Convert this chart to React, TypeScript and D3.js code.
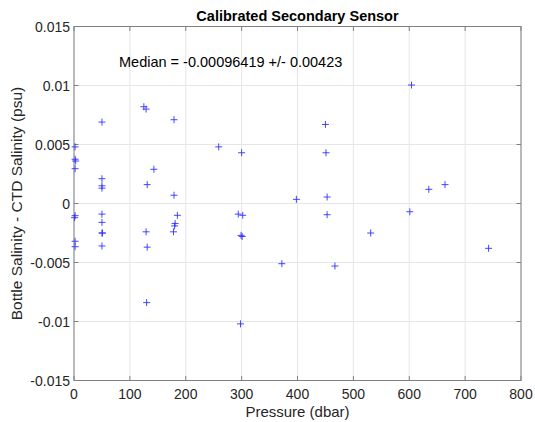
import React from "react";
import * as d3 from "d3";

// Bottle minus CTD salinity residuals for the secondary sensor, by pressure
const pressure: number[] = [
  2, 2, 3, 2, 2, 1, 2, 2,
  50, 50, 50, 50, 50, 50, 50, 51, 50,
  125, 129, 131, 143, 129, 131, 130,
  179, 179, 185, 181, 180, 178,
  259, 300, 294, 302, 299, 301, 298,
  372, 398, 450, 451, 453, 453, 467,
  531, 601, 604, 635, 664, 742,
];
const salinityDiff: number[] = [
  0.0048, 0.00375, 0.0036, 0.00295, -0.00103, -0.0012, -0.0032, -0.00366,
  0.0069, 0.0021, 0.0015, 0.0013, -0.0009, -0.0016, -0.0025, -0.0025, -0.0036,
  0.0082, 0.008, 0.0016, 0.0029, -0.0024, -0.0037, -0.0084,
  0.0071, 0.0007, -0.001, -0.0017, -0.0019, -0.0024,
  0.0048, 0.0043, -0.0009, -0.001, -0.0027, -0.0028, -0.0102,
  -0.0051, 0.00035, 0.0067, 0.0043, 0.00055, -0.00095, -0.0053,
  -0.0025, -0.0007, 0.01004, 0.0012, 0.0016, -0.0038,
];
const xTicks: number[] = [0, 100, 200, 300, 400, 500, 600, 700, 800];
const yTicks: number[] = [-0.015, -0.01, -0.005, 0, 0.005, 0.01, 0.015];
const yTickLabels: string[] = ["-0.015", "-0.01", "-0.005", "0", "0.005", "0.01", "0.015"];

const title = "Calibrated Secondary Sensor";
const annotation = "Median = -0.00096419 +/- 0.00423";
const xLabel = "Pressure (dbar)";
const yLabel = "Bottle Salinity - CTD Salinity (psu)";

const W = 535;
const H = 422;
const left = 74;
const right = 521;
const top = 26.5;
const bottom = 380.5;
const font = "'Liberation Sans', Arial, Helvetica, sans-serif";
const axisColor = "#808080";
const gridColor = "#e6e6e6";
const textColor = "#262626";

export default function App() {
  const x = d3.scaleLinear().domain([0, 800]).range([left, right]);
  const y = d3.scaleLinear().domain([-0.015, 0.015]).range([bottom, top]);
  const tick = 4.5;
  const m = 3.5;

  return (
    <svg
      width={W}
      height={H}
      style={{ position: "absolute", left: 0, top: 0, background: "#fff" }}
      fontFamily={font}
    >
      <rect x={0} y={0} width={W} height={H} fill="#fff" />
      {/* grid */}
      {xTicks.map((t) => (
        <line key={"gx" + t} x1={x(t)} x2={x(t)} y1={top} y2={bottom} stroke={gridColor} strokeWidth={1} />
      ))}
      {yTicks.map((t) => (
        <line key={"gy" + t} x1={left} x2={right} y1={y(t)} y2={y(t)} stroke={gridColor} strokeWidth={1} />
      ))}
      {/* box */}
      <rect x={left} y={top} width={right - left} height={bottom - top} fill="none" stroke={axisColor} strokeWidth={1} />
      {/* ticks, mirrored on all sides */}
      {xTicks.map((t) => (
        <g key={"tx" + t} stroke={axisColor} strokeWidth={1}>
          <line x1={x(t)} x2={x(t)} y1={bottom} y2={bottom - tick} />
          <line x1={x(t)} x2={x(t)} y1={top} y2={top + tick} />
        </g>
      ))}
      {yTicks.map((t) => (
        <g key={"ty" + t} stroke={axisColor} strokeWidth={1}>
          <line x1={left} x2={left + tick} y1={y(t)} y2={y(t)} />
          <line x1={right} x2={right - tick} y1={y(t)} y2={y(t)} />
        </g>
      ))}
      {/* tick labels */}
      {xTicks.map((t) => (
        <text key={"lx" + t} x={x(t)} y={bottom + 18} textAnchor="middle" fontSize={14} fill={textColor}>
          {t}
        </text>
      ))}
      {yTicks.map((t, i) => (
        <text key={"ly" + t} x={left - 4} y={y(t) + 5} textAnchor="end" fontSize={14} fill={textColor}>
          {yTickLabels[i]}
        </text>
      ))}
      {/* markers */}
      {pressure.map((p, i) => {
        const cx = x(p);
        const cy = y(salinityDiff[i]);
        return (
          <g key={"pt" + i} stroke="#3333ff" strokeWidth={0.9}>
            <line x1={cx - m} x2={cx + m} y1={cy} y2={cy} />
            <line x1={cx} x2={cx} y1={cy - m} y2={cy + m} />
          </g>
        );
      })}
      {/* labels */}
      <text x={(left + right) / 2} y={20.5} textAnchor="middle" fontSize={14.5} fontWeight="bold" fill="#000">
        {title}
      </text>
      <text x={119} y={67} fontSize={14.5} fill="#000">
        {annotation}
      </text>
      <text x={(left + right) / 2} y={417} textAnchor="middle" fontSize={15} fill={textColor}>
        {xLabel}
      </text>
      <text
        transform={`translate(22, ${(top + bottom) / 2}) rotate(-90)`}
        textAnchor="middle"
        fontSize={15.5}
        fill={textColor}
      >
        {yLabel}
      </text>
    </svg>
  );
}
